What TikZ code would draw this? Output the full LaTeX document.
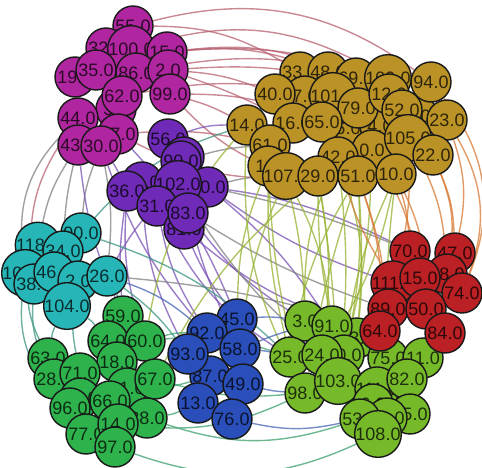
\documentclass[tikz,border=0pt]{standalone}
\usepackage{fontspec}
\setmainfont{Liberation Sans}
\usetikzlibrary{backgrounds}
\definecolor{cM}{RGB}{176,38,160}
\definecolor{cP}{RGB}{111,43,184}
\definecolor{cG}{RGB}{186,146,38}
\definecolor{cC}{RGB}{38,182,184}
\definecolor{cR}{RGB}{186,32,36}
\definecolor{cN}{RGB}{46,178,76}
\definecolor{cB}{RGB}{42,78,186}
\definecolor{cL}{RGB}{118,186,42}
\definecolor{eM}{RGB}{184,96,112}
\definecolor{eP}{RGB}{120,80,180}
\definecolor{eG}{RGB}{150,178,50}
\definecolor{eO}{RGB}{215,120,50}
\definecolor{eK}{RGB}{128,128,128}
\definecolor{eC}{RGB}{60,150,130}
\definecolor{eN}{RGB}{60,160,110}
\definecolor{eB}{RGB}{70,100,180}
\definecolor{eL}{RGB}{140,180,60}
\definecolor{eR}{RGB}{190,60,60}
\tikzset{
  v/.style={circle, draw=black!90, line width=1.4pt, minimum size=40pt, inner sep=0pt,
    font=\fontsize{18}{18}\selectfont, text=black, text opacity=0.75},
  vM/.style={v, fill=cM}, vP/.style={v, fill=cP}, vG/.style={v, fill=cG},
  vC/.style={v, fill=cC}, vR/.style={v, fill=cR}, vN/.style={v, fill=cN},
  vB/.style={v, fill=cB}, vL/.style={v, fill=cL},
  ed/.style={line width=1.4pt, draw opacity=0.75},
  xM/.style={ed, draw=eM}, xP/.style={ed, draw=eP}, xG/.style={ed, draw=eG},
  xO/.style={ed, draw=eO}, xK/.style={ed, draw=eK}, xC/.style={ed, draw=eC},
  xN/.style={ed, draw=eN}, xB/.style={ed, draw=eB}, xL/.style={ed, draw=eL},
  xR/.style={ed, draw=eR}
}
\begin{document}
\begin{tikzpicture}[x=1pt,y=-1pt]
\useasboundingbox (0,0) rectangle (482,468);
% magenta
\node[vM] (m55) at (133,26) {55.0};
\node[vM] (m32) at (106,48) {32.0};
\node[vM] (m100) at (131,49) {100.0};
\node[vM] (m15) at (167,52) {15.0};
\node[vM] (m19) at (75,77) {19.0};
\node[vM] (m35) at (96,70) {35.0};
\node[vM] (m86) at (136,73) {86.0};
\node[vM] (m2) at (168,70) {2.0};
\node[vM] (m99) at (170,94) {99.0};
\node[vM] (m3) at (116,109) {3.0};
\node[vM] (m62) at (122,96) {62.0};
\node[vM] (m44) at (78,118) {44.0};
\node[vM] (m27) at (118,134) {27.0};
\node[vM] (m43) at (78,145) {43.0};
\node[vM] (m30) at (101,146) {30.0};
% purple
\node[vP] (p56) at (168,139) {56.0};
\node[vP] (p96) at (184,157) {96.0};
\node[vP] (p90) at (181,161) {90.0};
\node[vP] (p20) at (208,187) {20.0};
\node[vP] (p39) at (142,182) {39.0};
\node[vP] (p36) at (127,191) {36.0};
\node[vP] (p102) at (178,184) {102.0};
\node[vP] (p31) at (157,206) {31.0};
\node[vP] (p81) at (184,229) {81.0};
\node[vP] (p83) at (188,213) {83.0};
% gold
\node[vG] (g0a) at (348,128) {6.0};
\node[vG] (g0b) at (380,126) {4.0};
\node[vG] (g0c) at (372,150) {0.0};
\node[vG] (g0d) at (418,116) {0.0};
\node[vG] (g33) at (300,72) {33.0};
\node[vG] (g48) at (328,72) {48.0};
\node[vG] (g69) at (356,78) {69.0};
\node[vG] (g109) at (388,78) {109.0};
\node[vG] (g94) at (431,82) {94.0};
\node[vG] (g7) at (305,96) {7.0};
\node[vG] (g40) at (275,94) {40.0};
\node[vG] (g101) at (333,96) {101.0};
\node[vG] (g79) at (358,108) {79.0};
\node[vG] (g12) at (389,94) {12.0};
\node[vG] (g52) at (402,110) {52.0};
\node[vG] (g23) at (447,120) {23.0};
\node[vG] (g14) at (247,125) {14.0};
\node[vG] (g16) at (293,123) {16.0};
\node[vG] (g65) at (322,122) {65.0};
\node[vG] (g105) at (408,138) {105.0};
\node[vG] (g61) at (270,145) {61.0};
\node[vG] (g1) at (268,166) {1.0};
\node[vG] (g42) at (338,157) {42.0};
\node[vG] (g22) at (433,155) {22.0};
\node[vG] (g107) at (286,176) {107.0};
\node[vG] (g29) at (318,176) {29.0};
\node[vG] (g51) at (358,176) {51.0};
\node[vG] (g10) at (396,174) {10.0};
% cyan
\node[vC] (c16) at (47,262) {16.0};
\node[vC] (c118) at (38,245) {118.0};
\node[vC] (c90) at (81,233) {90.0};
\node[vC] (c34) at (63,251) {34.0};
\node[vC] (c106) at (25,273) {106.0};
\node[vC] (c38) at (34,284) {38.0};
\node[vC] (c46) at (54,272) {46.0};
\node[vC] (c2) at (78,281) {2.0};
\node[vC] (c26) at (107,276) {26.0};
\node[vC] (c104) at (67,306) {104.0};
% light green
\node[vL] (l73) at (357,338) {73.0};
\node[vL] (l3) at (305,321) {3.0};
\node[vL] (l91) at (332,326) {91.0};
\node[vL] (l25) at (290,357) {25.0};
\node[vL] (l10) at (344,355) {10.0};
\node[vL] (l24) at (322,355) {24.0};
\node[vL] (l75) at (388,358) {75.0};
\node[vL] (l11) at (423,358) {11.0};
\node[vL] (l98) at (305,393) {98.0};
\node[vL] (l103) at (338,381) {103.0};
\node[vL] (l111) at (377,389) {111.0};
\node[vL] (l82) at (407,379) {82.0};
\node[vL] (l6) at (373,404) {6.0};
\node[vL] (l85) at (410,414) {85.0};
\node[vL] (l99) at (387,418) {99.0};
\node[vL] (l53) at (360,419) {53.0};
\node[vL] (l108) at (378,434) {108.0};
% red
\node[vR] (r70) at (410,251) {70.0};
\node[vR] (r47) at (455,253) {47.0};
\node[vR] (r68) at (447,274) {68.0};
\node[vR] (r74) at (462,293) {74.0};
\node[vR] (r111) at (393,283) {111.0};
\node[vR] (r15) at (420,278) {15.0};
\node[vR] (r89) at (388,309) {89.0};
\node[vR] (r50) at (426,309) {50.0};
\node[vR] (r64) at (380,331) {64.0};
\node[vR] (r84) at (445,333) {84.0};
% green
\node[vN] (n59) at (123,316) {59.0};
\node[vN] (n64) at (108,341) {64.0};
\node[vN] (n60) at (145,341) {60.0};
\node[vN] (n18) at (117,362) {18.0};
\node[vN] (n63) at (48,358) {63.0};
\node[vN] (n28) at (54,379) {28.0};
\node[vN] (n71) at (80,373) {71.0};
\node[vN] (n21) at (127,388) {21.0};
\node[vN] (n67) at (155,379) {67.0};
\node[vN] (n57) at (80,398) {57.0};
\node[vN] (n66) at (110,401) {66.0};
\node[vN] (n96) at (70,408) {96.0};
\node[vN] (n88) at (147,418) {88.0};
\node[vN] (n77) at (86,434) {77.0};
\node[vN] (n14) at (118,424) {14.0};
\node[vN] (n97) at (115,447) {97.0};
% blue
\node[vB] (b45) at (237,319) {45.0};
\node[vB] (b92) at (207,333) {92.0};
\node[vB] (b58) at (240,349) {58.0};
\node[vB] (b87) at (210,376) {87.0};
\node[vB] (b93) at (188,354) {93.0};
\node[vB] (b49) at (243,384) {49.0};
\node[vB] (b13) at (198,403) {13.0};
\node[vB] (b76) at (232,419) {76.0};
\begin{scope}[on background layer]
% magenta -> gold
\draw[xM] (m55) to[bend left=25] (g94);
\draw[xM] (m55) to[bend left=15] (g33);
\draw[xM] (m100) to[bend left=22] (g109);
\draw[xM] (m15) to[bend left=12] (g48);
\draw[xM] (m15) to[bend left=14] (g69);
\draw[xM] (m2) to[bend left=8] (g40);
\draw[xM] (m2) to[bend left=10] (g12);
\draw[xM] (m99) to[bend left=6] (g14);
\draw[xM] (m99) to[bend left=10] (g65);
\draw[xM] (m86) to[bend left=20] (g23);
\draw[xM] (m62) to[bend left=10] (g101);
\draw[xM] (m27) to[bend left=8] (g61);
\draw[xM] (m99) to[bend right=10] (g107);
\draw[xM] (m27) to[bend right=15] (g29);
\draw[xM] (m15) to[bend left=18] (g23);
\draw[xM] (m2) to[bend left=4] (g16);
% magenta -> others
\draw[xK] (m43) to[bend right=10] (c118);
\draw[xK] (m30) to[bend right=8] (c90);
\draw[xK] (m44) to[bend right=25] (c106);
\draw[xK] (m30) to[bend left=8] (c26);
\draw[xK] (m43) to[bend right=5] (c34);
\draw[xP] (m30) to[bend right=10] (b92);
\draw[xP] (m43) to[bend right=8] (n59);
\draw[xP] (m27) to[bend left=10] (b45);
\draw[xP] (m30) to[bend left=5] (p36);
\draw[xM] (m44) to[bend right=20] (c38);
% purple
\draw[xP] (p83) to[bend right=10] (l3);
\draw[xP] (p20) to[bend left=8] (l91);
\draw[xP] (p81) to[bend right=6] (b45);
\draw[xP] (p31) to[bend right=10] (b92);
\draw[xP] (p102) to[bend left=10] (r70);
\draw[xP] (p56) to[bend left=10] (g14);
\draw[xP] (p36) to[bend right=6] (n59);
\draw[xP] (p39) to[bend right=12] (b93);
\draw[xP] (p20) to[bend right=8] (r111);
\draw[xP] (p81) to[bend right=12] (r64);
\draw[xP] (p36) to[bend right=10] (n60);
\draw[xP] (p31) to[bend right=15] (l25);
\draw[xP] (p83) to[bend right=5] (b58);
\draw[xP] (p102) to[bend right=8] (c26);
\draw[xK] (p83) to[bend right=6] (r89);
\draw[xK] (p20) to[bend left=6] (g107);
\draw[xK] (c26) to[bend left=6] (r64);
\draw[xK] (p90) to[bend left=6] (g61);
\draw[xK] (p102) to[bend right=8] (l24);
\draw[xK] (p20) to[bend left=5] (r70);
% gold -> light green
\draw[xG] (g107) to[bend left=5] (l3);
\draw[xG] (g29) to[bend right=5] (l91);
\draw[xG] (g29) to[bend left=8] (l24);
\draw[xG] (g51) to[bend left=4] (l73);
\draw[xG] (g51) to[bend right=10] (l25);
\draw[xG] (g42) to[bend left=6] (l103);
\draw[xG] (g10) to[bend right=4] (l75);
\draw[xG] (g61) to[bend right=8] (l25);
\draw[xG] (g14) to[bend right=15] (l98);
\draw[xG] (g1) to[bend right=10] (b45);
\draw[xG] (g14) to[bend right=15] (n60);
\draw[xG] (g0c) to[bend left=6] (l10);
\draw[xG] (g29) to[bend right=10] (n67);
\draw[xG] (g107) to[bend right=8] (b58);
\draw[xG] (g10) to[bend left=10] (l24);
\draw[xG] (g51) to[bend left=8] (l103);
\draw[xG] (g42) to[bend right=12] (l3);
\draw[xG] (g107) to[bend left=10] (l91);
\draw[xG] (g29) to[bend left=3] (l103);
\draw[xG] (g51) to[bend right=4] (l98);
\draw[xG] (g42) to[bend left=12] (l73);
\draw[xG] (g10) to[bend right=8] (l10);
\draw[xG] (g1) to[bend right=6] (l98);
% gold -> red
\draw[xO] (g22) to[bend left=10] (r47);
\draw[xO] (g23) to[bend left=25] (r74);
\draw[xO] (g10) to[bend left=6] (r70);
\draw[xO] (g105) to[bend left=8] (r111);
\draw[xO] (g22) to[bend left=15] (r68);
\draw[xO] (g51) to[bend left=6] (r89);
\draw[xO] (g42) to[bend right=8] (r111);
\draw[xO] (g10) to[bend left=12] (r50);
\draw[xO] (g94) to[bend left=30] (r74);
\draw[xO] (g23) to[bend left=15] (r47);
\draw[xO] (g0c) to[bend left=10] (r15);
\draw[xO] (g105) to[bend left=12] (r68);
\draw[xO] (g51) to[bend left=10] (r64);
% cyan
\draw[xC] (c104) to[bend right=10] (n63);
\draw[xC] (c104) to[bend left=10] (n64);
\draw[xC] (c26) to[bend left=6] (n59);
\draw[xC] (c38) to[bend right=15] (n28);
\draw[xC] (c106) to[bend right=25] (n96);
\draw[xC] (c2) to[bend right=10] (n71);
\draw[xC] (c26) to[bend left=8] (b93);
\draw[xC] (c90) to[bend left=12] (l25);
\draw[xC] (c90) to[bend left=15] (g14);
\draw[xC] (c118) to[bend right=20] (n63);
\draw[xB] (c26) to[bend left=10] (b92);
% green
\draw[xN] (n97) to[bend right=22] (l108);
\draw[xN] (n88) to[bend right=18] (l53);
\draw[xN] (n67) to[bend right=10] (l98);
\draw[xN] (n67) to[bend left=8] (b93);
\draw[xN] (n60) to[bend left=8] (b92);
\draw[xN] (n88) to[bend right=8] (b13);
\draw[xN] (n21) to[bend right=8] (b87);
\draw[xN] (n60) to[bend left=12] (l25);
\draw[xN] (n14) to[bend right=15] (l98);
% blue
\draw[xB] (b45) to[bend left=6] (l3);
\draw[xB] (b58) to[bend left=5] (l25);
\draw[xB] (b49) to[bend right=5] (l98);
\draw[xB] (b76) to[bend right=12] (l53);
\draw[xB] (b58) to[bend left=15] (r64);
% light green / red
\draw[xL] (l3) to[bend left=8] (r64);
\draw[xL] (l11) to[bend right=8] (r84);
\draw[xR] (r89) to[bend right=10] (l73);
\draw[xR] (r64) to[bend right=12] (l24);
\end{scope}
\end{tikzpicture}
\end{document}
